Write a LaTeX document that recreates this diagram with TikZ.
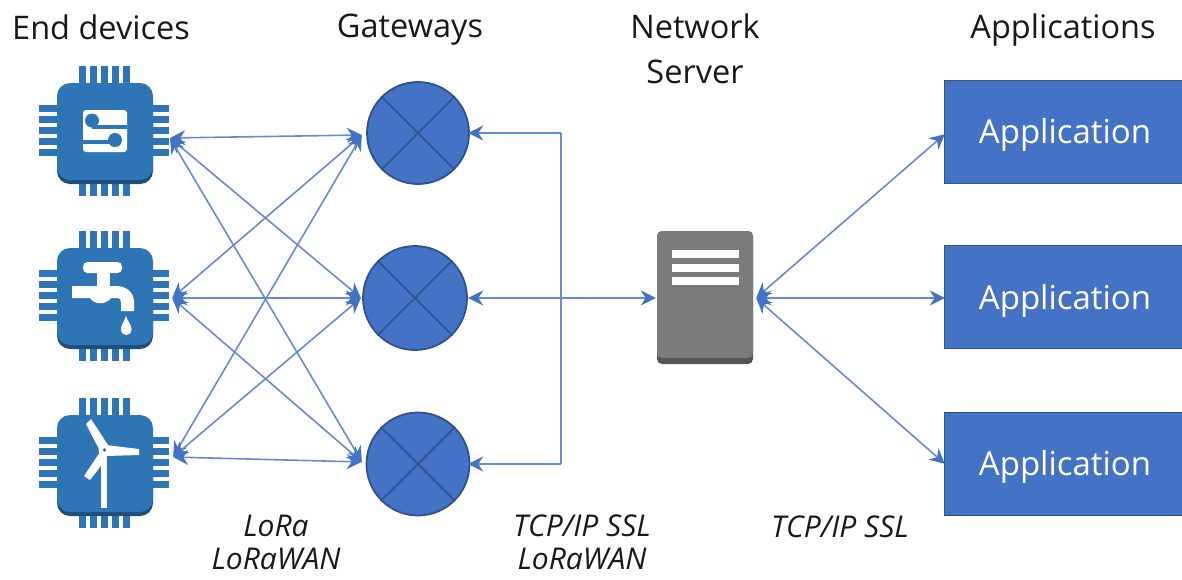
\documentclass[tikz,border=0pt]{standalone}
\usepackage{fontspec}
\setmainfont{Open Sans}
\usetikzlibrary{arrows.meta}
\definecolor{chipblue}{HTML}{2E75B6}
\definecolor{chipdark}{HTML}{1F4E79}
\definecolor{gwblue}{HTML}{4472C4}
\definecolor{gwedge}{HTML}{2F528F}
\definecolor{linkblue}{HTML}{648BD3}
\definecolor{srvgrey}{HTML}{7B7B7B}
\definecolor{srvdark}{HTML}{555555}
\tikzset{
 x=1pt,y=-1pt,
 hdr/.style={font=\fontsize{32.5}{45}\selectfont,align=center,text=black!90,inner sep=0pt},
 proto/.style={font=\fontsize{30}{36}\selectfont\itshape,text=black!90,inner sep=0pt,anchor=base},
 link/.style={draw=linkblue,line width=1.6pt,{Stealth[length=15pt,width=15pt,color=gwblue]}-{Stealth[length=15pt,width=15pt,color=gwblue]}},
 linkone/.style={draw=linkblue,line width=1.6pt,-{Stealth[length=15pt,width=15pt,color=gwblue]}},
 wire/.style={draw=linkblue,line width=1.6pt},
 gateway/.style={circle,draw=gwedge,line width=1.8pt,fill=gwblue,minimum size=#1,inner sep=0pt},
 appbox/.style={rectangle,draw=gwedge,line width=1pt,fill=gwblue,minimum width=238pt,minimum height=103pt,inner sep=0pt,text=white,font=\fontsize{33}{38}\selectfont},
 port/.style={rectangle,minimum size=0pt,inner sep=0pt},
 pin/.style={fill=chipblue,draw=none},
 cutout/.style={fill=white,draw=none}
}
\newcommand{\chipbody}[1]{%
 \begin{scope}[shift={(105,#1)}]
  \foreach \k in {-26,-15,-4,7,18}{
   \fill[pin] (\k,-67) rectangle (\k+7,63);
  }
  \foreach \k in {-28,-17,-6,5,16}{
   \fill[pin] (-66,\k) rectangle (64,\k+7);
  }
  \fill[chipdark,rounded corners=13pt] (-48,-30) rectangle (48,51);
  \fill[chipblue,rounded corners=13pt] (-48,-50) rectangle (48,47);
 \end{scope}}
\newcommand{\apptext}{\hspace{4pt}\smash{\raisebox{-12pt}{Application}}}
\begin{document}
\begin{tikzpicture}
\useasboundingbox (0,0) rectangle (1182,579);
% ports
\node[port] (c1) at (170,138) {};
\node[port] (c2) at (172,298) {};
\node[port] (c3) at (173,457) {};
\node[port] (g1l) at (362,135) {};
\node[port] (g2l) at (361,298) {};
\node[port] (g3l) at (362,462) {};
\node[port] (g1r) at (468,133) {};
\node[port] (g2r) at (468,298) {};
\node[port] (g3r) at (468,464) {};
\node[port] (s1) at (656,298) {};
\node[port] (s2) at (756,298) {};
\node[port] (a1p) at (945,134) {};
\node[port] (a2p) at (945,298) {};
\node[port] (a3p) at (945,464) {};
\coordinate (jt) at (561,133);
\coordinate (jb) at (561,464);
% headers
\node[hdr] (h1) at (101,27.5) {End devices};
\node[hdr] (h2) at (410,30) {Gateways};
\node[hdr] (h3) at (695,49) {Network\\Server};
\node[hdr] (h4) at (1063,30) {Applications};
% chips
\chipbody{133}
\chipbody{298}
\chipbody{465}
% icon 1
\fill[cutout,rounded corners=3pt] (83,110) rectangle (127,152);
\fill[chipblue] (92,120.5) circle (7);
\fill[chipblue] (115,140) circle (7);
\fill[chipblue] (92,124.5) rectangle (127,128.5);
\fill[chipblue] (83,140) rectangle (115,144);
% icon 2: tap
\fill[cutout,rounded corners=4.5pt] (83,262) rectangle (122,273);
\fill[cutout] (97,270) rectangle (110,289);
\fill[cutout] (72,286) -- (72,298) -- (90,298) .. controls (94,305) and (106,305) .. (111,298) -- (118,298) .. controls (120,298) and (121,300) .. (121,303) -- (121,311) -- (134,311) -- (134,302) .. controls (134,292) and (126,286) .. (116,286) -- cycle;
\fill[cutout] (126,316) .. controls (124,322) and (121,325) .. (121,329) .. controls (121,337) and (131.5,337) .. (131.5,329) .. controls (131.5,325) and (128,322) .. (126,316) -- cycle;
% icon 3: turbine
\fill[cutout] (101,452) rectangle (107,508);
\fill[cutout] (100,451) -- (86,424) -- (91,419) -- (108,445) -- cycle;
\fill[cutout] (106,445) -- (139,449) -- (139,455) -- (106,456) -- cycle;
\fill[cutout] (100,452) -- (107,458) -- (90,480) -- (84,476) -- cycle;
\fill[cutout] (104.5,450) circle (6);
\fill[chipblue] (104.5,450) circle (1.8);
% gateways
\node[gateway=102pt] (g1) at (418,133) {};
\node[gateway=104pt] (g2) at (415,298) {};
\node[gateway=103pt] (g3) at (418,464) {};
\foreach \g in {g1,g2,g3}{
 \draw[gwedge,line width=1.6pt] (\g.45) -- (\g.225);
 \draw[gwedge,line width=1.6pt] (\g.135) -- (\g.315);
}
% server
\node[rectangle,fill=srvdark,rounded corners=5pt,minimum width=96pt,minimum height=133pt,inner sep=0pt] (srv) at (705,297.5) {};
\fill[srvgrey,rounded corners=5pt] (657,231) rectangle (753,358);
\fill[white] (672,250) rectangle (739,258);
\fill[white] (672,264) rectangle (739,272);
\fill[white] (672,277) rectangle (739,285);
% apps
\node[appbox] (a1) at (1063,131.5) {\apptext};
\node[appbox] (a2) at (1063,297) {\apptext};
\node[appbox] (a3) at (1063,463.5) {\apptext};
% links device-gateway
\foreach \c in {c1,c2,c3}{\foreach \g in {g1l,g2l,g3l}{\draw[link] (\c) -- (\g);}}
% links to server
\draw[link] (g2r) -- (s1);
\draw[linkone] (jb) -- (g3r);
\draw[linkone] (jt) -- (g1r);
\draw[wire] (jt) -- (jb);
% links to apps
\draw[link] (s2) -- (a1p);
\draw[link] (s2) -- (a2p);
\draw[link] (s2) -- (a3p);
% protocol labels
\node[proto] (p1a) at (276,536) {LoRa};
\node[proto] (p1b) at (276,569) {LoRaWAN};
\node[proto] (p2a) at (582,536) {TCP/IP SSL};
\node[proto] (p2b) at (582,569) {LoRaWAN};
\node[proto] (p3) at (840,537) {TCP/IP SSL};
\end{tikzpicture}
\end{document}
